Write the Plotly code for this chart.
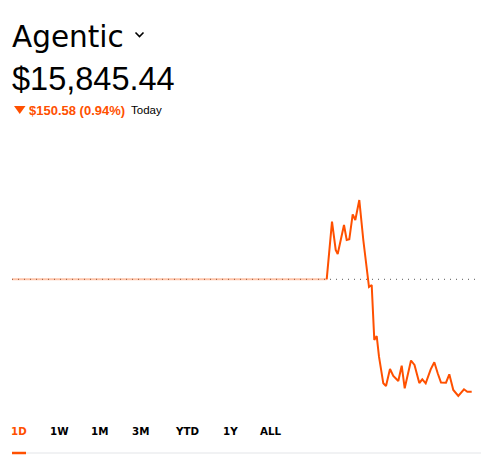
import plotly.graph_objects as go

# ---- data ----
prev_close = 15996.02
last_value = 15845.44
change_abs = 150.58
change_pct = 0.94

# time index (minutes into the session, arbitrary units) for the flat, inactive part
flat_t = [0, 314.7]
flat_v = [15996.02, 15996.02]

# active part of the day
t = [314.7, 320, 323.7, 325.7, 332, 334.7, 337.3, 340.7, 343.3, 347.3, 351.3, 354.7,
     357, 359.7, 362.3, 364.7, 367, 371.3, 374, 378, 381.3, 386.3, 389.7, 392.7,
     395.7, 399, 402.5, 407.3, 410.3, 413.7, 418.7, 422.3, 425.7, 429, 434, 437.3,
     441.3, 446.3, 452, 455.3, 459.7]
v = [15996.02, 16073.19, 16035.27, 16029.91, 16068.77, 16048.67, 16049.61, 16083.10,
     16075.46, 16102.26, 16048.67, 16012.90, 15985.70, 15988.38, 15914.70, 15920.06,
     15892.33, 15856.69, 15853.07, 15875.85, 15866.47, 15859.77, 15880.27, 15849.99,
     15866.47, 15887.24, 15881.21, 15857.09, 15862.05, 15856.69, 15875.45, 15884.82,
     15870.09, 15857.76, 15857.50, 15868.75, 15847.72, 15839.68, 15848.65, 15845.44,
     15845.44]

x_range = [0, 468]
y_range = [15834.32, 16115.65]

tabs = ["1D", "1W", "1M", "3M", "YTD", "1Y", "ALL"]
tab_x = [12, 51, 92, 133, 176, 224, 261]

ORANGE = "#FF5000"
W, H = 481, 474
L, R, T, B = 12, 1, 190, 74
PW, PH = W - L - R, H - T - B


def px(xp):
    return (xp - L) / PW


def py(yp):
    return (H - B - yp) / PH


fig = go.Figure()
fig.add_trace(go.Scatter(x=x_range, y=[prev_close, prev_close], mode="lines",
                         line=dict(color="#555555", width=1, dash="1px,5px"),
                         hoverinfo="skip"))
fig.add_trace(go.Scatter(x=flat_t, y=flat_v, mode="lines",
                         line=dict(color="rgba(255,80,0,0.35)", width=2),
                         hoverinfo="skip"))
fig.add_trace(go.Scatter(x=t, y=v, mode="lines",
                         line=dict(color=ORANGE, width=2),
                         hoverinfo="skip"))

annotations = []
WIDE = "DejaVu Sans"
NARROW = "Liberation Sans"


def label(x, y, text, family, size, color="#000000"):
    annotations.append(dict(x=px(x), y=py(y), text=text, showarrow=False,
                            xref="paper", yref="paper", borderpad=0, borderwidth=0,
                            xanchor="left", yanchor="middle",
                            font=dict(family=family, size=size, color=color)))


label(12, 37, "Agentic", WIDE, 29.5)
label(12, 79, "$" + format(last_value, ",.2f"), NARROW, 32.5)
label(29, 110, "<b>$%.2f (%.2f%%)</b>" % (change_abs, change_pct), NARROW, 13, ORANGE)
label(131, 110, "Today", NARROW, 11.5)
for name, xp in zip(tabs, tab_x):
    label(xp - 1, 431, "<b>%s</b>" % name, WIDE, 10.3,
          ORANGE if name == "1D" else "#000000")

shapes = [
    # chevron next to title
    dict(type="path", xref="paper", yref="paper",
         path="M %f,%f L %f,%f L %f,%f" % (px(135.5), py(32.5), px(139.5), py(36.5), px(143.5), py(32.5)),
         line=dict(color="#000000", width=1.6)),
    # down triangle
    dict(type="path", xref="paper", yref="paper",
         path="M %f,%f L %f,%f L %f,%f Z" % (px(14), py(106), px(25.5), py(106), px(19.75), py(114)),
         fillcolor=ORANGE, line=dict(width=0)),
    # tab separator
    dict(type="line", xref="paper", yref="paper", x0=px(12), x1=px(481), y0=py(453), y1=py(453),
         line=dict(color="#e3e5e8", width=1)),
    # active tab underline
    dict(type="line", xref="paper", yref="paper", x0=px(12), x1=px(26), y0=py(453), y1=py(453),
         line=dict(color=ORANGE, width=2.5)),
]

fig.update_layout(
    width=W, height=H,
    margin=dict(l=L, r=R, t=T, b=B),
    paper_bgcolor="white", plot_bgcolor="white",
    showlegend=False,
    xaxis=dict(range=x_range, visible=False, fixedrange=True),
    yaxis=dict(range=y_range, visible=False, fixedrange=True),
    annotations=annotations, shapes=shapes,
)

fig.write_html("out.html", config={"displayModeBar": False},
               post_script="document.body.style.margin='0';")
